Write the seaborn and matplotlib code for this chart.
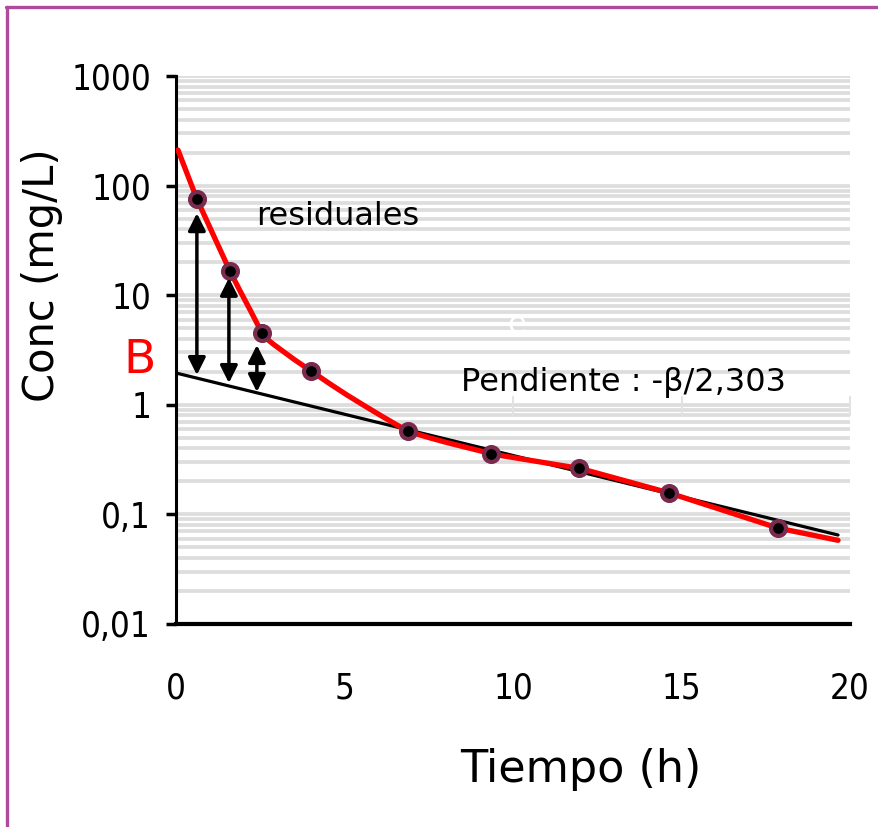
import matplotlib
matplotlib.use("Agg")
import matplotlib.pyplot as plt
from matplotlib.lines import Line2D
import seaborn as sns
import pandas as pd

# ---- data ----
obs_t = [0.62, 1.60, 2.55, 4.00, 6.88, 9.35, 11.96, 14.63, 17.86]
obs_c = [75.5, 16.6, 4.52, 2.04, 0.58, 0.356, 0.265, 0.157, 0.075]

curve_t = [0.06, 0.62, 1.10, 1.60, 1.90, 2.20, 2.40, 2.55, 2.70, 2.90, 3.10,
           3.50, 4.00, 4.57, 5.07, 5.55, 6.05, 6.56, 6.88, 7.20, 7.54, 8.04,
           9.02, 9.35, 12.0, 14.63, 17.86, 19.64]
curve_c = [211, 75.5, 35.9, 16.6, 10.96, 7.33, 5.56, 4.52, 3.98, 3.55, 3.20,
           2.60, 2.04, 1.55, 1.23, 0.998, 0.806, 0.653, 0.576, 0.535, 0.498,
           0.452, 0.380, 0.356, 0.262, 0.157, 0.075, 0.058]

beta_t = [0.0, 19.64]
beta_c = [1.95, 0.0648]

resid_t = [0.62, 1.57, 2.40]
resid_top = [56, 14.4, 3.51]
resid_bot = [1.87, 1.58, 1.31]

yticks = [0.01, 0.1, 1, 10, 100, 1000]
ytick_labels = ["0,01", "0,1", "1", "10", "100", "1000"]
xticks = [0, 5, 10, 15, 20]
xtick_labels = ["0", "5", "10", "15", "20"]

# ---- figure ----
sns.set_style("white")
plt.rcParams["font.family"] = ["DejaVu Sans"]
for key in ["text.color", "axes.labelcolor", "xtick.color", "ytick.color"]:
    plt.rcParams[key] = "black"

fig = plt.figure(figsize=(8.79, 8.27), dpi=100)
ax = fig.add_axes([0.2002, 0.2455, 0.767, 0.6626])
ax.set_yscale("log")
ax.set_xlim(0, 20)
ax.set_ylim(0.01, 1000)

# grid lines at every major and minor decade position
grid_vals = []
for d in [0.01, 0.1, 1, 10, 100]:
    for k in range(1, 10):
        grid_vals.append(d * k)
grid_vals.append(1000)
for g in grid_vals:
    ax.axhline(g, color="#DDDDDD", lw=2.7, zorder=0)

# faint leftover ticks
for xv in [10, 15, 20]:
    ax.plot([xv, xv], [0.81, 1.18], color="#E2E2E2", lw=1.5, zorder=0.5,
            clip_on=False)

df_curve = pd.DataFrame({"t": curve_t, "c": curve_c})
df_beta = pd.DataFrame({"t": beta_t, "c": beta_c})
df_obs = pd.DataFrame({"t": obs_t, "c": obs_c})

sns.lineplot(data=df_beta, x="t", y="c", ax=ax, color="black", lw=2.3,
             sort=False, zorder=2)
sns.lineplot(data=df_curve, x="t", y="c", ax=ax, color="#FF0000", lw=3.8,
             sort=False, zorder=3)
sns.scatterplot(data=df_obs, x="t", y="c", ax=ax, color="black", s=115,
                edgecolor="#7A2B4E", linewidth=3.0, zorder=4)

for t, top, bot in zip(resid_t, resid_top, resid_bot):
    ax.annotate("", xy=(t, top), xytext=(t, bot),
                arrowprops=dict(arrowstyle="<|-|>", color="black", lw=2.5,
                                mutation_scale=26, shrinkA=0, shrinkB=0),
                zorder=5)

ax.text(4.81, 51.7, "residuales", fontsize=23, ha="center", va="center",
        color="black")
ax.text(13.29, 1.61, "Pendiente : -β/2,303", fontsize=23, ha="center",
        va="center", color="black")
ax.text(10.12, 5.35, "e", fontsize=22, ha="center", va="center",
        color="white")
ax.text(-1.07, 2.56, "B", fontsize=34, ha="center", va="center",
        color="#FF0000", clip_on=False)

ax.set_yticks(yticks)
ax.set_yticklabels(ytick_labels, fontsize=25, fontstretch="condensed")
ax.yaxis.set_minor_locator(matplotlib.ticker.NullLocator())
ax.set_xticks(xticks)
ax.set_xticklabels(xtick_labels, fontsize=25, fontstretch="condensed")
ax.tick_params(axis="y", length=7, width=2.5, color="black", pad=11,
               direction="out", left=True)
ax.tick_params(axis="x", length=0, pad=34, bottom=False)

ax.set_xlabel("Tiempo (h)", fontsize=32, labelpad=31, x=0.6)
ax.set_ylabel("Conc (mg/L)", fontsize=30, labelpad=6, y=0.637)

for side in ["top", "right"]:
    ax.spines[side].set_visible(False)
ax.spines["left"].set_linewidth(2.2)
ax.spines["bottom"].set_linewidth(3.0)
ax.spines["left"].set_color("black")
ax.spines["bottom"].set_color("black")

# magenta frame (top and left)
fig.add_artist(Line2D([0.007, 1.0], [0.9915, 0.9915], color="#B04A9B",
                      lw=2.4, transform=fig.transFigure))
fig.add_artist(Line2D([0.008, 0.008], [0.0, 0.9915], color="#B04A9B",
                      lw=2.4, transform=fig.transFigure))

fig.savefig("out.png", dpi=100)
